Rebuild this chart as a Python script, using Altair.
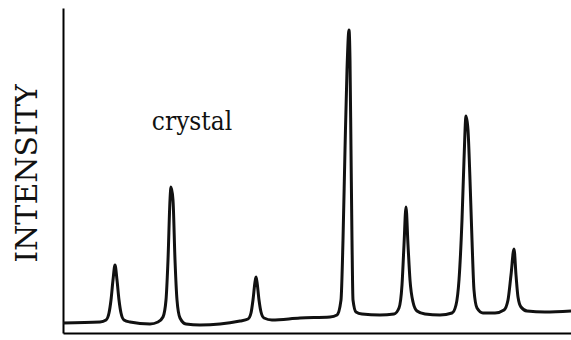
import altair as alt
import pandas as pd

# Diffraction trace of the crystalline sample.
two_theta = [
    10.0, 13.7, 14.3, 14.6, 14.8, 15.0, 15.2, 15.4, 15.6, 15.8, 16.1, 16.7,
    18.7, 19.5, 20.0, 20.3, 20.5, 20.7, 20.8, 21.0, 21.2, 21.4, 21.7, 22.3, 23.7,
    27.7, 28.5, 28.8, 29.0, 29.2, 29.3, 29.4, 29.6, 29.8, 30.1, 30.9,
    33.7, 36.7, 37.4, 37.8, 38.0, 38.2, 38.4, 38.6, 38.7, 38.8, 38.9, 39.0, 39.3, 39.9,
    41.7, 43.1, 43.6, 43.9, 44.1, 44.3, 44.5, 44.7, 45.0, 45.4, 46.2,
    47.7, 48.9, 49.3, 49.6, 49.9, 50.1, 50.3, 50.5, 50.7, 50.9, 51.1, 51.4, 52.0,
    53.2, 54.1, 54.5, 54.8, 55.1, 55.3, 55.5, 55.8, 56.4, 58.2, 60.8,
]
intensity = [
    100, 110, 130, 200, 330, 530, 680, 530, 330, 200, 130, 110,
    90, 110, 160, 330, 730, 1330, 1460, 1330, 730, 330, 150, 90, 80,
    120, 140, 200, 330, 510, 560, 510, 330, 210, 150, 130,
    150, 160, 180, 330, 930, 1830, 2630, 3030, 2730, 1830, 930, 330, 210, 190,
    180, 190, 250, 480, 880, 1260, 880, 530, 310, 220, 190,
    180, 200, 280, 530, 1130, 1730, 2170, 2030, 1530, 930, 430, 250, 200,
    200, 230, 330, 580, 840, 580, 360, 260, 220, 210, 220,
]

label_text = ["crystal"]
label_x = [22.9]
label_y = [2030]

trace = pd.DataFrame({"two_theta": two_theta, "intensity": intensity})
labels = pd.DataFrame({"text": label_text, "x": label_x, "y": label_y})

x_scale = alt.Scale(domain=[10, 60.8], nice=False, zero=False)
y_scale = alt.Scale(domain=[0, 3250], nice=False)

line = alt.Chart(trace).mark_line(
    color="#111111", strokeWidth=3, interpolate="monotone"
).encode(
    x=alt.X("two_theta:Q", scale=x_scale,
            axis=alt.Axis(title=None, labels=False, ticks=False, grid=False,
                          domainColor="black", domainWidth=2)),
    y=alt.Y("intensity:Q", scale=y_scale,
            axis=alt.Axis(title="INTENSITY", labels=False, ticks=False, grid=False,
                          domainColor="black", domainWidth=2,
                          titleFont="DejaVu Serif", titleFontSize=30,
                          titleFontWeight="normal", titleColor="#111111",
                          titleAngle=270, titleAlign="center",
                          titleBaseline="alphabetic", titleX=-27, titleY=165)),
)

text = alt.Chart(labels).mark_text(
    font="DejaVu Serif Condensed, DejaVu Serif", fontSize=26, color="#111111",
    align="center", baseline="alphabetic"
).encode(
    x=alt.X("x:Q", scale=x_scale),
    y=alt.Y("y:Q", scale=y_scale),
    text="text:N",
)

chart = (line + text).properties(
    width=508, height=325,
    autosize=alt.AutoSizeParams(type="none"),
    padding={"left": 63, "top": 8, "right": 0, "bottom": 7},
).configure_view(stroke=None)

chart.save("out.html", embed_options={"renderer": "svg", "actions": False})
